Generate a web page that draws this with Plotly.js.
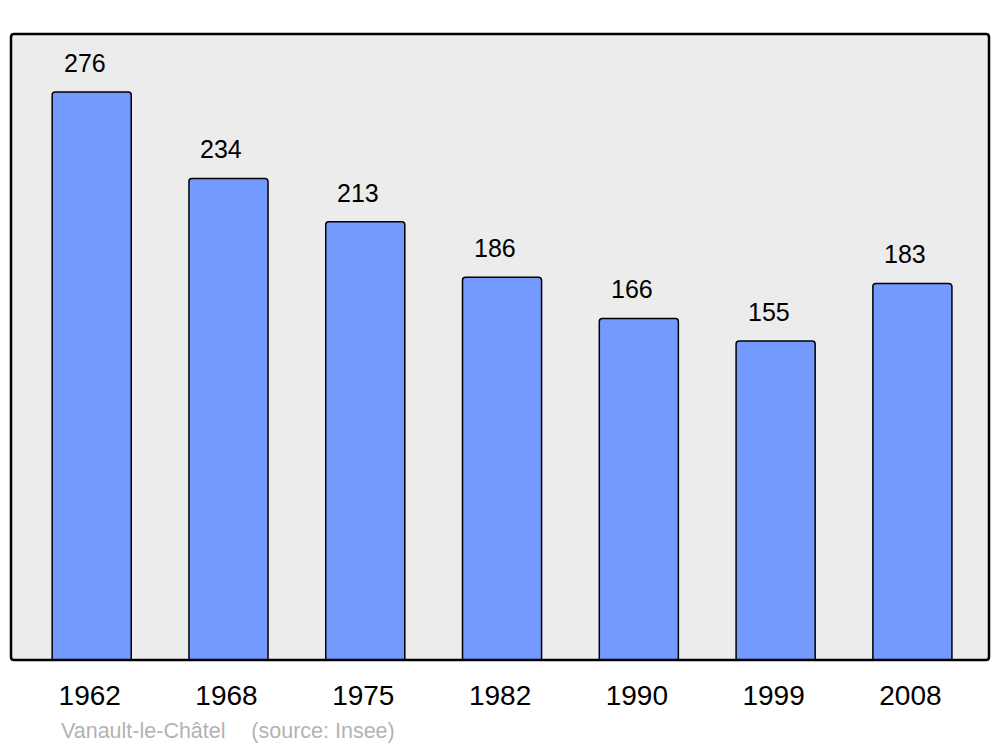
<!DOCTYPE html>
<html>
<head>
<meta charset="utf-8">
<script src="https://cdn.plot.ly/plotly-3.0.1.min.js"></script>
<style>html,body{margin:0;padding:0;background:#fff}#chart{width:1000px;height:747px}</style>
</head>
<body>
<div id="chart"></div>
<script>
const years = ["1962", "1968", "1975", "1982", "1990", "1999", "2008"];
const population = [276, 234, 213, 186, 166, 155, 183];
const footerText = "Vanault-le-Châtel\u2003\u2009(source: Insee)";

const W = 1000, H = 747;
const L = 11, R = 11, T = 34, B = 87;
const pw = W - L - R, ph = H - T - B;
const rx = 3 / pw, ry = 3 / ph;

function roundRect(){
  return `M ${rx} 0 L ${1-rx} 0 Q 1 0 1 ${ry} L 1 ${1-ry} Q 1 1 ${1-rx} 1 L ${rx} 1 Q 0 1 0 ${1-ry} L 0 ${ry} Q 0 0 ${rx} 0 Z`;
}

const trace = {
  type: 'bar',
  x: years,
  y: population,
  width: 0.578,
  marker: {color: '#7499ff', line: {color: '#000', width: 1.5}, cornerradius: 3},
  hoverinfo: 'none'
};

const annotations = years.map((yr, i) => ({
  x: i, y: population[i], xref: 'x', yref: 'y',
  text: String(population[i]), showarrow: false,
  yanchor: 'bottom', xanchor: 'center', yshift: 13, xshift: -7,
  font: {family: 'Liberation Sans, Arial, sans-serif', size: 25, color: '#000'}
}));
annotations.push({
  xref: 'paper', yref: 'paper', x: 48 / pw, y: -(731 - (H - B)) / ph,
  xanchor: 'left', yanchor: 'middle', showarrow: false,
  text: footerText,
  font: {family: 'Liberation Sans, Arial, sans-serif', size: 21.5, color: '#b3b3b3'}
});

const layout = {
  width: W, height: H,
  margin: {l: L, r: R, t: T, b: B, pad: 0},
  paper_bgcolor: '#ffffff',
  plot_bgcolor: 'rgba(0,0,0,0)',
  showlegend: false,
  xaxis: {
    type: 'category', range: [-0.59, 6.56],
    showgrid: false, zeroline: false, showline: false,
    ticks: '', ticklabelstandoff: 16, ticklabelshift: -2,
    tickfont: {family: 'Liberation Sans, Arial, sans-serif', size: 28, color: '#000'},
    fixedrange: true
  },
  yaxis: {
    range: [0, 304.2], showgrid: false, zeroline: false, showline: false,
    showticklabels: false, ticks: '', fixedrange: true
  },
  shapes: [
    {type: 'path', xref: 'paper', yref: 'paper', path: roundRect(), fillcolor: '#ececec', line: {width: 0}, layer: 'below'},
    {type: 'path', xref: 'paper', yref: 'paper', path: roundRect(), fillcolor: 'rgba(0,0,0,0)', line: {color: '#000', width: 2.5}, layer: 'above'}
  ],
  annotations: annotations
};

Plotly.newPlot('chart', [trace], layout, {displayModeBar: false, staticPlot: true});
</script>
</body>
</html>
